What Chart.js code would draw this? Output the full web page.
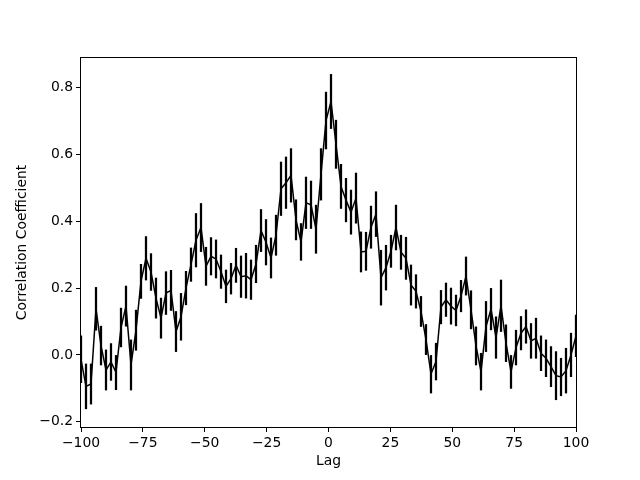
<!DOCTYPE html>
<html>
<head>
<meta charset="utf-8">
<script src="https://cdn.jsdelivr.net/npm/chart.js@4/dist/chart.umd.min.js"></script>
<style>
html,body{margin:0;padding:0;background:#fff;}
#wrap{width:640px;height:480px;}
</style>
</head>
<body>
<div id="wrap"><canvas id="c" width="640" height="480"></canvas></div>
<script>
// Lag values (100 evenly spaced lags from -100 to 100)
const lags = [-100,-97.98,-95.96,-93.94,-91.92,-89.90,-87.88,-85.86,-83.84,-81.82,
  -79.80,-77.78,-75.76,-73.74,-71.72,-69.70,-67.68,-65.66,-63.64,-61.62,
  -59.60,-57.58,-55.56,-53.54,-51.52,-49.49,-47.47,-45.45,-43.43,-41.41,
  -39.39,-37.37,-35.35,-33.33,-31.31,-29.29,-27.27,-25.25,-23.23,-21.21,
  -19.19,-17.17,-15.15,-13.13,-11.11,-9.09,-7.07,-5.05,-3.03,-1.01,
  1.01,3.03,5.05,7.07,9.09,11.11,13.13,15.15,17.17,19.19,
  21.21,23.23,25.25,27.27,29.29,31.31,33.33,35.35,37.37,39.39,
  41.41,43.43,45.45,47.47,49.49,51.52,53.54,55.56,57.58,59.60,
  61.62,63.64,65.66,67.68,69.70,71.72,73.74,75.76,77.78,79.80,
  81.82,83.84,85.86,87.88,89.90,91.92,93.94,95.96,97.98,100];

// Correlation coefficient at each lag
const corr = [-0.013,-0.094,-0.087,0.138,0.028,-0.045,-0.021,-0.052,0.082,0.146,
  -0.030,0.074,0.220,0.289,0.248,0.170,0.110,0.185,0.193,0.070,
  0.114,0.200,0.270,0.343,0.381,0.265,0.295,0.287,0.249,0.205,
  0.228,0.268,0.234,0.237,0.225,0.272,0.372,0.337,0.290,0.358,
  0.497,0.515,0.537,0.404,0.338,0.455,0.449,0.376,0.540,0.701,
  0.758,0.630,0.504,0.463,0.427,0.469,0.308,0.310,0.382,0.421,
  0.231,0.261,0.310,0.381,0.307,0.289,0.209,0.190,0.130,0.046,
  -0.057,-0.020,0.143,0.165,0.146,0.133,0.176,0.236,0.135,0.027,
  -0.050,0.085,0.137,0.052,0.147,0.035,-0.050,0.022,0.065,0.085,
  0.042,0.050,0.005,-0.010,-0.035,-0.062,-0.066,-0.047,0.000,0.057];

// Half-length of the error bar at each lag
const corrErr = [0.070,0.067,0.060,0.064,0.058,0.060,0.055,0.052,0.058,0.060,
  0.075,0.060,0.051,0.065,0.055,0.060,0.060,0.064,0.060,0.060,
  0.070,0.050,0.050,0.080,0.072,0.057,0.056,0.057,0.050,0.049,
  0.046,0.051,0.062,0.067,0.059,0.056,0.063,0.068,0.060,0.060,
  0.080,0.077,0.080,0.060,0.055,0.077,0.071,0.072,0.077,0.085,
  0.081,0.072,0.066,0.065,0.066,0.075,0.060,0.057,0.063,0.067,
  0.082,0.067,0.048,0.067,0.051,0.063,0.060,0.050,0.045,0.045,
  0.057,0.055,0.050,0.050,0.054,0.046,0.047,0.057,0.057,0.057,
  0.055,0.075,0.062,0.062,0.077,0.055,0.050,0.052,0.050,0.050,
  0.052,0.060,0.052,0.055,0.060,0.072,0.056,0.067,0.065,0.062];

const xTicks = [-100,-75,-50,-25,0,25,50,75,100];
const yTicks = [-0.2,0.0,0.2,0.4,0.6,0.8];

const FONT = "'DejaVu Sans', sans-serif";
const fmt = (v, d) => {
  const s = Math.abs(v).toFixed(d);
  return (v < -1e-9 ? '\u2212' : '') + s;
};

const linePts = lags.map((x, i) => ({x: x, y: corr[i]}));
const errPts = lags.map((x, i) => ({x: x, y: [corr[i] - corrErr[i], corr[i] + corrErr[i]]}));

const frame = {
  id: 'frame',
  afterDraw(chart) {
    const a = chart.chartArea, ctx = chart.ctx;
    ctx.save();
    ctx.strokeStyle = '#000';
    ctx.lineWidth = 1;
    ctx.strokeRect(Math.round(a.left) - 0.5, Math.round(a.top) - 0.5,
      Math.round(a.right - a.left) + 1, Math.round(a.bottom - a.top) + 1);
    ctx.restore();
  }
};

new Chart(document.getElementById('c'), {
  type: 'line',
  data: {
    datasets: [
      {
        type: 'bar',
        data: errPts,
        backgroundColor: '#000',
        borderWidth: 0,
        barThickness: 1.6,
        order: 2
      },
      {
        type: 'line',
        data: linePts,
        borderColor: '#000',
        borderWidth: 1.5,
        pointRadius: 0,
        tension: 0,
        fill: false,
        order: 1
      }
    ]
  },
  options: {
    responsive: false,
    animation: false,
    devicePixelRatio: 1,
    layout: {padding: {left: 0, right: 64, top: 58, bottom: 0}},
    plugins: {legend: {display: false}, tooltip: {enabled: false}},
    scales: {
      x: {
        type: 'linear',
        min: -100, max: 100,
        offset: false,
        afterBuildTicks: s => { s.ticks = xTicks.map(v => ({value: v})); },
        afterFit: s => { s.height = 53; },
        grid: {display: true, offset: false, drawOnChartArea: false, drawTicks: true, tickLength: 5, tickWidth: 1, tickColor: '#000'},
        border: {display: false},
        ticks: {color: '#000', padding: 3, font: {family: FONT, size: 13.9}, maxRotation: 0,
          callback: v => fmt(v, 0)},
        title: {display: true, text: 'Lag', color: '#000', font: {family: FONT, size: 13.9},
          padding: {top: 0, bottom: 10}}
      },
      y: {
        type: 'linear',
        min: -0.2155, max: 0.888,
        afterBuildTicks: s => { s.ticks = yTicks.map(v => ({value: v})); },
        afterFit: s => { s.width = 81; },
        grid: {display: true, offset: false, drawOnChartArea: false, drawTicks: true, tickLength: 5, tickWidth: 1, tickColor: '#000'},
        border: {display: false},
        ticks: {color: '#000', padding: 3, font: {family: FONT, size: 13.9},
          callback: v => fmt(v, 1)},
        title: {display: true, text: 'Correlation Coefficient', color: '#000', font: {family: FONT, size: 13.9},
          padding: {top: 14, bottom: 0}}
      }
    }
  },
  plugins: [frame]
});
</script>
</body>
</html>
